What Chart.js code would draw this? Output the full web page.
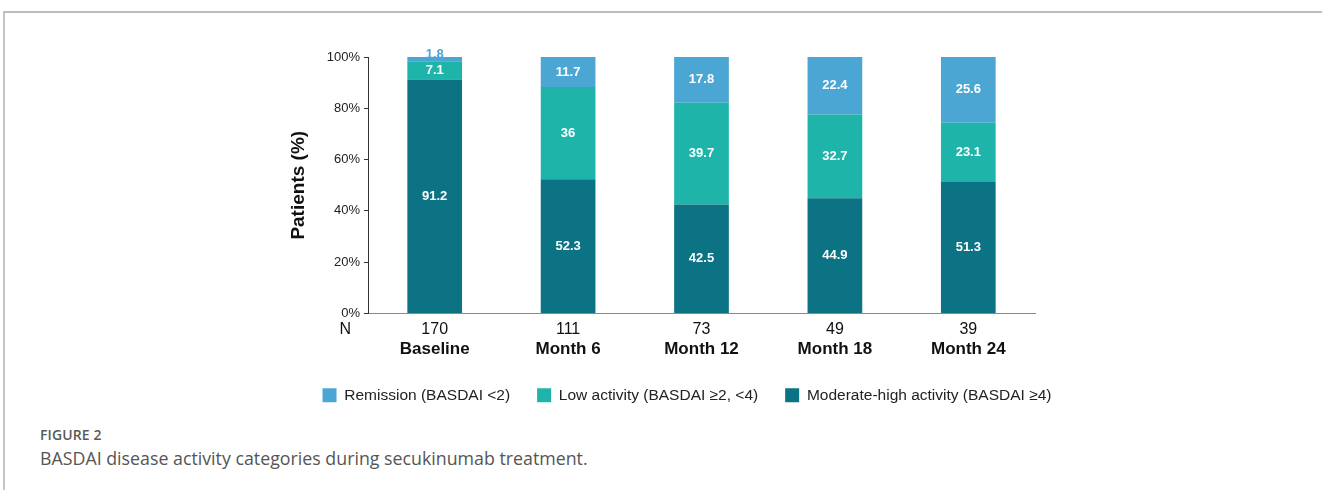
<!DOCTYPE html>
<html>
<head>
<meta charset="utf-8">
<script src="https://cdn.jsdelivr.net/npm/chart.js@4.4.1/dist/chart.umd.min.js"></script>
<style>
  html, body { margin: 0; padding: 0; background: #fff; }
  body { width: 1322px; height: 490px; position: relative; overflow: hidden; }
  .frame {
    position: absolute; left: 3px; top: 11px; width: 1330px; height: 490px;
    border-top: 2px solid #bdbdbd; border-left: 2px solid #c4c4c4;
  }
  .chart-box { position: absolute; left: 270px; top: 40px; width: 834px; height: 373px; }
  .fig-label {
    position: absolute; left: 40px; top: 425px;
    font-family: "Open Sans", sans-serif; font-size: 14px; font-weight: 600;
    color: #5a5a5a; letter-spacing: 0.1px;
  }
  .fig-caption {
    position: absolute; left: 40px; top: 446px;
    font-family: "Open Sans", sans-serif; font-size: 17.8px; color: #555;
  }
</style>
</head>
<body>
<div class="frame"></div>
<div class="chart-box"><canvas id="basdaiChart"></canvas></div>
<div class="fig-label">FIGURE 2</div>
<div class="fig-caption">BASDAI disease activity categories during secukinumab treatment.</div>

<script>
// chart data
const visits = ['Baseline', 'Month 6', 'Month 12', 'Month 18', 'Month 24'];
const patientCounts = ['170', '111', '73', '49', '39'];
const moderateHigh = [91.2, 52.3, 42.5, 44.9, 51.3];
const lowActivity = [7.1, 36, 39.7, 32.7, 23.1];
const remission = [1.8, 11.7, 17.8, 22.4, 25.6];
const yTicks = [0, 20, 40, 60, 80, 100];

const colRemission = '#4ba6d4';
const colLow = '#1fb4a9';
const colModerate = '#0b7383';

// white value labels inside the segments (small ones go just above, in the bar colour)
const segmentLabels = {
    id: 'segmentLabels',
    afterDatasetsDraw(chart) {
        const ctx = chart.ctx;
        ctx.save();
        ctx.font = 'bold 13px Arial, "Liberation Sans", sans-serif';
        ctx.textAlign = 'center';
        ctx.textBaseline = 'middle';
        chart.data.datasets.forEach((ds, di) => {
            chart.getDatasetMeta(di).data.forEach((bar, i) => {
                const h = bar.base - bar.y;
                if (h < 10) {
                    ctx.fillStyle = ds.backgroundColor;
                    ctx.fillText(String(ds.data[i]), bar.x, bar.y - 2);
                } else {
                    ctx.fillStyle = '#ffffff';
                    ctx.fillText(String(ds.data[i]), bar.x, (bar.y + bar.base) / 2);
                }
            });
        });
        ctx.restore();
    }
};

// N row + bold visit names under the x axis
const visitLabels = {
    id: 'visitLabels',
    afterDraw(chart) {
        const ctx = chart.ctx;
        const xs = chart.scales.x;
        const top = chart.chartArea.bottom;
        ctx.save();
        ctx.fillStyle = '#111';
        ctx.textAlign = 'center';
        ctx.textBaseline = 'middle';
        visits.forEach((v, i) => {
            const x = xs.getPixelForValue(i);
            ctx.font = '16px Arial, "Liberation Sans", sans-serif';
            ctx.fillText(patientCounts[i], x, top + 16);
            ctx.font = 'bold 17px Arial, "Liberation Sans", sans-serif';
            ctx.fillText(v, x, top + 36);
        });
        ctx.font = '16px Arial, "Liberation Sans", sans-serif';
        ctx.textAlign = 'right';
        ctx.fillText('N', chart.chartArea.left - 17, top + 16);
        ctx.restore();
    }
};

const ctx = document.getElementById('basdaiChart').getContext('2d');
new Chart(ctx, {
    type: 'bar',
    data: {
        labels: visits,
        datasets: [
            { label: 'Moderate-high activity (BASDAI \u22654)', data: moderateHigh, backgroundColor: colModerate },
            { label: 'Low activity (BASDAI \u22652, <4)', data: lowActivity, backgroundColor: colLow },
            { label: 'Remission (BASDAI <2)', data: remission, backgroundColor: colRemission }
        ]
    },
    options: {
        responsive: true,
        maintainAspectRatio: false,
        animation: false,
        datasets: {
            bar: { categoryPercentage: 1, barPercentage: 0.41, borderWidth: 0 }
        },
        layout: { padding: { top: 17, right: 0, left: 0, bottom: 0 } },
        plugins: {
            legend: {
                position: 'bottom',
                reverse: true,
                labels: {
                    boxWidth: 14,
                    boxHeight: 14,
                    padding: 27,
                    color: '#222',
                    font: { family: 'Arial, "Liberation Sans", sans-serif', size: 15.5 }
                }
            },
            tooltip: { enabled: false }
        },
        scales: {
            x: {
                stacked: true,
                grid: { display: false },
                border: { display: true, color: '#8a8a8a', width: 1 },
                ticks: { display: false },
                afterFit: function(scale) { scale.height = 47; }
            },
            y: {
                stacked: true,
                min: 0,
                max: 100,
                afterBuildTicks: function(scale) {
                    scale.ticks = yTicks.map(v => ({ value: v }));
                },
                afterFit: function(scale) { scale.width = 98; },
                title: {
                    display: true,
                    text: 'Patients (%)',
                    color: '#111',
                    padding: { top: 17, bottom: 0 },
                    font: { family: 'Arial, "Liberation Sans", sans-serif', size: 19, weight: 'bold' }
                },
                grid: {
                    display: true,
                    drawOnChartArea: false,
                    drawTicks: true,
                    tickLength: 4,
                    color: '#333'
                },
                border: { display: true, color: '#333', width: 1 },
                ticks: {
                    padding: 4,
                    color: '#222',
                    font: { family: 'Arial, "Liberation Sans", sans-serif', size: 13 },
                    callback: function(value) { return value + '%'; }
                }
            },
            // empty spacer on the right so the plot stops short of the legend width
            spacer: {
                position: 'right',
                grid: { display: false },
                border: { display: false },
                ticks: { display: false },
                afterFit: function(scale) { scale.width = 69; }
            }
        }
    },
    plugins: [segmentLabels, visitLabels]
});
</script>
</body>
</html>
